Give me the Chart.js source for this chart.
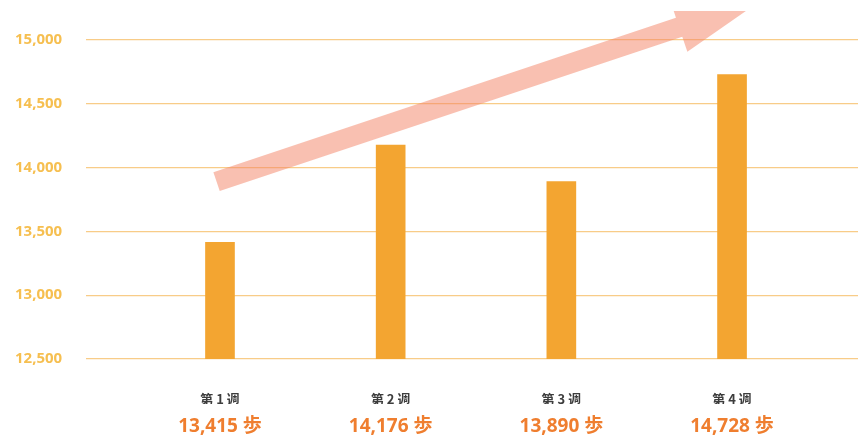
<!DOCTYPE html>
<html lang="ja">
<head>
<meta charset="utf-8">
<title>週ごとの平均歩数</title>
<script src="https://cdn.jsdelivr.net/npm/chart.js@4.4.1/dist/chart.umd.min.js"></script>
<style>
  html, body { margin: 0; padding: 0; background: #fff; }
  #wrap { position: relative; width: 858px; height: 442px; }
</style>
</head>
<body>
<div id="wrap"><canvas id="stepsChart"></canvas></div>
<script>
const weeks = ["第 1 週", "第 2 週", "第 3 週", "第 4 週"];
const steps = [13415, 14176, 13890, 14728];
const yTicks = [12500, 13000, 13500, 14000, 14500, 15000];

const BAR = "#F3A531";
const GRID = "#F8CC88";
const TICK = "#F6BF50";
const VALUE = "#EF7E2F";

const fmt = (n) => n.toLocaleString("en-US");

// x runs on a linear scale so the bars sit where they should inside the wide plot
const X_MIN = 0.215, X_MAX = 4.738;
const weekTicks = (axis) => { axis.ticks = weeks.map((_, i) => ({ value: i + 1 })); };

// big translucent "going up" arrow behind the bars
const trendArrow = {
  id: "trendArrow",
  beforeDatasetsDraw(chart){
    const { ctx, chartArea, scales } = chart;
    const p0 = { x: scales.x.getPixelForValue(0.98), y: scales.y.getPixelForValue(13890) };
    const p1 = { x: scales.x.getPixelForValue(3.69), y: scales.y.getPixelForValue(15100) };
    const len = Math.hypot(p1.x - p0.x, p1.y - p0.y);
    const d = { x: (p1.x - p0.x) / len, y: (p1.y - p0.y) / len };
    const n = { x: -d.y, y: d.x };
    const w = 10, h = 26, head = 88;
    const pts = [
      [p0.x + w*n.x, p0.y + w*n.y],
      [p1.x + w*n.x, p1.y + w*n.y],
      [p1.x + h*n.x, p1.y + h*n.y],
      [p1.x + head*d.x, p1.y + head*d.y],
      [p1.x - h*n.x, p1.y - h*n.y],
      [p1.x - w*n.x, p1.y - w*n.y],
      [p0.x - w*n.x, p0.y - w*n.y]
    ];
    ctx.save();
    ctx.beginPath();
    ctx.rect(chartArea.left, chartArea.top, chartArea.right - chartArea.left, chartArea.bottom - chartArea.top);
    ctx.clip();
    ctx.beginPath();
    pts.forEach(([x, y], i) => i ? ctx.lineTo(x, y) : ctx.moveTo(x, y));
    ctx.closePath();
    ctx.fillStyle = "rgba(243,130,100,0.5)";
    ctx.fill();
    ctx.restore();
  }
};

const chart = new Chart(document.getElementById("stepsChart"), {
  type: "bar",
  data: {
    datasets: [{
      data: steps.map((v, i) => ({ x: i + 1, y: v })),
      backgroundColor: BAR,
      barThickness: 29,
      xAxisID: "x",
      yAxisID: "y"
    }]
  },
  options: {
    responsive: true,
    maintainAspectRatio: false,
    animation: false,
    layout: { padding: { top: 11, right: 0, left: 15, bottom: 0 } },
    plugins: { legend: { display: false }, tooltip: { enabled: false } },
    scales: {
      x: {
        type: "linear", position: "bottom", weight: 0, offset: false,
        min: X_MIN, max: X_MAX,
        grid: { display: false, offset: false },
        border: { display: false },
        afterBuildTicks: weekTicks,
        afterFit(s){ s.height = 45; },
        ticks: {
          padding: 24,
          color: "#3d3d3d",
          font: { family: "'Noto Sans CJK JP'", size: 13, weight: "bold" },
          callback: (v) => weeks[v - 1]
        }
      },
      x2: {
        type: "linear", position: "bottom", weight: 1, offset: false,
        min: X_MIN, max: X_MAX,
        grid: { display: false },
        border: { display: false },
        afterBuildTicks: weekTicks,
        afterFit(s){ s.height = 38; },
        ticks: {
          padding: 3,
          color: VALUE,
          font: { family: "'Open Sans', 'Noto Sans CJK JP'", size: 19, weight: "bold" },
          callback: (v) => fmt(steps[v - 1]) + " 歩"
        }
      },
      y: {
        min: 12500,
        max: 15227,
        afterBuildTicks(axis){ axis.ticks = yTicks.map(v => ({ value: v })); },
        afterFit(s){ s.width = 71; },
        grid: { color: GRID, lineWidth: 1.2, drawTicks: false },
        border: { display: false },
        ticks: {
          padding: 0,
          crossAlign: "far",
          color: TICK,
          font: { family: "'Open Sans'", size: 15, weight: "bold" },
          callback: (v) => fmt(v)
        }
      }
    }
  },
  plugins: [trendArrow]
});
</script>
</body>
</html>
